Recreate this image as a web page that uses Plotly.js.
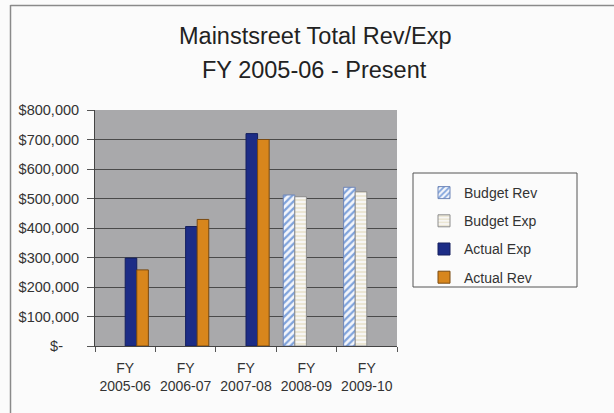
<!DOCTYPE html>
<html>
<head>
<meta charset="utf-8">
<script src="https://cdn.plot.ly/plotly-3.0.1.min.js"></script>
<style>html,body{margin:0;padding:0;background:#fbfbfb;}#chart{width:614px;height:413px;}</style>
</head>
<body>
<div id="chart"></div>
<script>
const categories = ["FY<br>2005-06", "FY<br>2006-07", "FY<br>2007-08", "FY<br>2008-09", "FY<br>2009-10"];
const budgetRev = [null, null, null, 512000, 538000];
const budgetExp = [null, null, null, 506000, 523000];
const actualExp = [298000, 405000, 720000, null, null];
const actualRev = [258000, 429000, 700000, null, null];
const yTickVals = [0, 100000, 200000, 300000, 400000, 500000, 600000, 700000, 800000];
const yTickText = ["$-\u00a0\u00a0\u00a0\u00a0", "$100,000", "$200,000", "$300,000", "$400,000", "$500,000", "$600,000", "$700,000", "$800,000"];

const FONT = "Liberation Sans, Arial, sans-serif";
// pixel helpers for the plot area (l=95, r=397, t=110, b=346)
const PL = 95, PR = 397, PT = 110, PB = 346;
const px = v => (v - PL) / (PR - PL);
const py = v => (PB - v) / (PB - PT);

const traces = [
  {type: "bar", name: "Budget Rev", x: categories, y: budgetRev, legendgroup: "a",
   marker: {color: "#ffffff", line: {color: "#6f86b8", width: 1},
            pattern: {shape: "/", fgcolor: "#7fa3dc", bgcolor: "#f4f6fb", size: 5, solidity: 0.45}}},
  {type: "bar", name: "Budget Exp", x: categories, y: budgetExp, legendgroup: "b",
   marker: {color: "#ffffff", line: {color: "#8c8c8c", width: 1},
            pattern: {shape: "-", fgcolor: "#e6dfc6", bgcolor: "#f7f6f4", size: 4, solidity: 0.35}}},
  {type: "bar", name: "Actual Exp", x: categories, y: actualExp, legendgroup: "c",
   marker: {color: "#1c2c86", line: {color: "#141f5e", width: 1}}},
  {type: "bar", name: "Actual Rev", x: categories, y: actualRev, legendgroup: "d",
   marker: {color: "#d8861c", line: {color: "#7a4a10", width: 1}}}
];

const layout = {
  width: 614, height: 413,
  margin: {l: PL, r: 614 - PR, t: PT, b: 413 - PB, pad: 0},
  paper_bgcolor: "#fbfbfb",
  plot_bgcolor: "#a9a9ab",
  font: {family: FONT, color: "#333333", size: 12},
  barmode: "group", bargap: 0.233, bargroupgap: 0,
  showlegend: true,
  legend: {x: px(424), y: py(177), xanchor: "left", yanchor: "top",
           bgcolor: "rgba(0,0,0,0)", borderwidth: 0, tracegroupgap: 7,
           font: {family: FONT, size: 14, color: "#333333"}, traceorder: "grouped"},
  xaxis: {type: "category", tickson: "boundaries", ticks: "outside", ticklen: 5, tickcolor: "#555",
          ticklabelstandoff: 9, tickangle: 0,
          showline: true, linecolor: "#444", linewidth: 1, showgrid: false,
          tickfont: {family: FONT, size: 14, color: "#333"}, fixedrange: true},
  yaxis: {range: [0, 800000], tickvals: yTickVals, ticktext: yTickText, ticks: "outside",
          ticklen: 7, tickcolor: "#555", showline: true, linecolor: "#444", linewidth: 1,
          ticklabelstandoff: 5,
          showgrid: true, gridcolor: "#4a4a4a", gridwidth: 1, zeroline: false,
          tickfont: {family: FONT, size: 14.5, color: "#333"}, fixedrange: true},
  annotations: [
    {text: "Mainstsreet Total Rev/Exp", xref: "paper", yref: "paper", x: px(315), y: py(36),
     xanchor: "center", yanchor: "middle", showarrow: false, font: {family: FONT, size: 23.5, color: "#222"}},
    {text: "FY 2005-06 - Present", xref: "paper", yref: "paper", x: px(314), y: py(70),
     xanchor: "center", yanchor: "middle", showarrow: false, font: {family: FONT, size: 23.5, color: "#222"}}
  ],
  shapes: [
    {type: "rect", xref: "paper", yref: "paper", x0: px(413), x1: px(577), y0: py(287), y1: py(173),
     line: {color: "#555", width: 1}, fillcolor: "rgba(0,0,0,0)", layer: "below"},
    {type: "line", xref: "paper", yref: "paper", x0: px(10.5), x1: px(10.5), y0: py(5), y1: py(420),
     line: {color: "#8a8a8a", width: 1.5}},
    {type: "line", xref: "paper", yref: "paper", x0: px(10.5), x1: px(620), y0: py(5.5), y1: py(5.5),
     line: {color: "#8a8a8a", width: 1.5}}
  ]
};

Plotly.newPlot("chart", traces, layout, {staticPlot: true, displayModeBar: false});
</script>
</body>
</html>
